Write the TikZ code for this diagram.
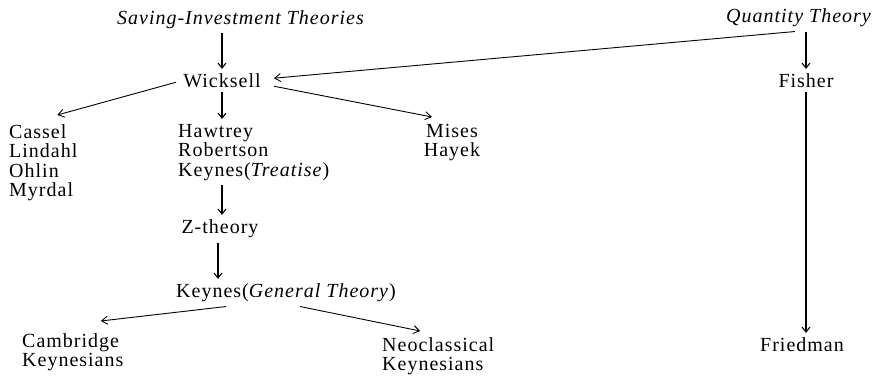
\documentclass[tikz,border=0pt]{standalone}
\usepackage{fontspec}
\setmainfont{Liberation Serif}[LetterSpace=5]
\usetikzlibrary{arrows.meta}
\begin{document}
\begin{tikzpicture}[x=1pt,y=-1pt,
  lbl/.style={font=\fontsize{20}{19.5}\selectfont, inner sep=0pt, anchor=base},
  blk/.style={font=\fontsize{20}{19.5}\selectfont, inner sep=0pt, align=left, anchor=north west},
  arr/.style={-{Straight Barb[length=5pt,width=8pt]}, line width=1.1pt, shorten <=4pt, shorten >=5pt},
  larr/.style={-{Straight Barb[length=6pt,width=8pt]}, line width=0.9pt}]
\useasboundingbox (0,0) rectangle (892,379);
\node[lbl] (sit) at (241,25) {\textit{Saving-Investment Theories}};
\node[lbl] (qt) at (799,23) {\textit{Quantity Theory}};
\node[lbl] (wick) at (222,88) {Wicksell};
\node[lbl] (fisher) at (806,88) {Fisher};
\node[lbl] (friedman) at (802,352) {Friedman};
\node[blk] (cassel) at (9,124) {Cassel\\Lindahl\\Ohlin\\Myrdal};
\node[blk] (hawtrey) at (178,124) {Hawtrey\\Robertson\\Keynes(\textit{Treatise})};
\node[blk, align=center, anchor=north] (mises) at (452,124) {Mises\\Hayek};
\node[lbl] (z) at (220,234) {Z-theory};
\node[lbl] (kgt) at (286,298) {Keynes(\textit{General Theory})};
\node[blk] (camb) at (22,333) {Cambridge\\Keynesians};
\node[blk] (neo) at (382,337) {Neoclassical\\Keynesians};
% arrows
\draw[arr] (sit.south -| wick.north) -- (wick.north);
\draw[larr] ([xshift=-4pt,yshift=-4pt]qt.south) -- ([xshift=13pt,yshift=3pt]wick.east);
\draw[arr] (qt.south -| fisher.north) -- (fisher.north);
\draw[arr] (fisher.south) -- (friedman.north -| fisher.south);
\draw[larr] ([xshift=-7pt,yshift=-1pt]wick.west) -- ([xshift=14pt,yshift=9pt]cassel.north);
\draw[arr] (wick.south) -- (hawtrey.north -| wick.south);
\draw[larr] ([xshift=13pt,yshift=-5pt]wick.east) -- ([xshift=-20pt,yshift=7pt]mises.north);
\draw[arr] (hawtrey.south -| wick.south) -- (z.north -| wick.south);
\draw[arr] (z.south -| 218,0) -- (kgt.north -| 218,0);
\draw[larr] ([xshift=50pt,yshift=-4pt]kgt.south west) -- ([xshift=28pt,yshift=12pt]camb.north);
\draw[larr] ([xshift=14pt,yshift=-4pt]kgt.south) -- ([xshift=-18pt,yshift=6pt]neo.north);
\end{tikzpicture}
\end{document}
